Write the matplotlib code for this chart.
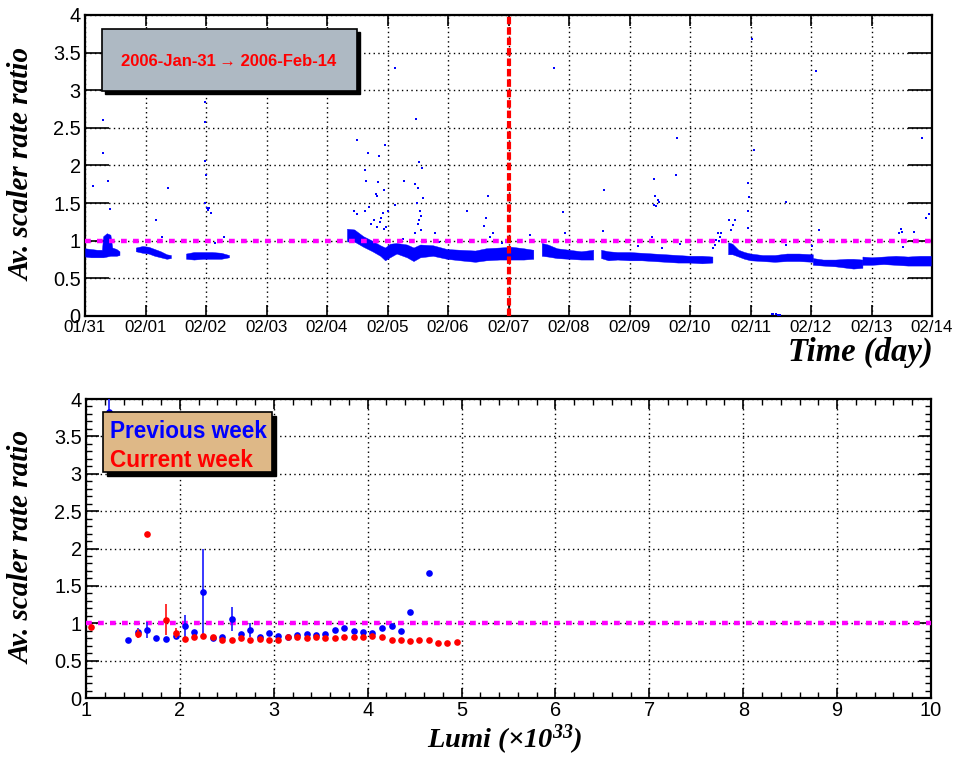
import matplotlib
matplotlib.use("Agg")
import matplotlib.pyplot as plt
from matplotlib.patches import Rectangle
import numpy as np

# ---------------- data: top panel (time in days since 01/31) ----------------
day_labels = ["01/31", "02/01", "02/02", "02/03", "02/04", "02/05", "02/06", "02/07",
              "02/08", "02/09", "02/10", "02/11", "02/12", "02/13", "02/14"]

# dense bands of points: time, lower edge, upper edge
segA_t = [0.00, 0.10, 0.20, 0.28, 0.30, 0.36, 0.42, 0.45, 0.52, 0.57]
segA_lo = [0.79, 0.78, 0.78, 0.78, 0.78, 0.79, 0.80, 0.80, 0.80, 0.81]
segA_hi = [0.90, 0.89, 0.88, 0.88, 1.06, 1.10, 1.08, 0.91, 0.89, 0.86]

segB_t = [0.84, 0.95, 1.05, 1.15, 1.25, 1.35, 1.42]
segB_lo = [0.86, 0.84, 0.83, 0.80, 0.78, 0.76, 0.77]
segB_hi = [0.91, 0.93, 0.92, 0.89, 0.86, 0.82, 0.81]

segC_t = [1.67, 1.80, 1.95, 2.10, 2.25, 2.38]
segC_lo = [0.76, 0.75, 0.76, 0.76, 0.76, 0.78]
segC_hi = [0.83, 0.85, 0.85, 0.85, 0.84, 0.81]

segD_t = [4.33, 4.45, 4.60, 4.75, 4.88, 4.96, 5.04, 5.15, 5.32, 5.43, 5.54, 5.75, 5.98,
          6.20, 6.45, 6.63, 6.85, 7.05, 7.25, 7.41]
segD_lo = [0.99, 0.99, 0.92, 0.86, 0.80, 0.74, 0.78, 0.83, 0.78, 0.73, 0.78, 0.80, 0.76,
           0.74, 0.72, 0.74, 0.75, 0.75, 0.75, 0.76]
segD_hi = [1.16, 1.15, 1.06, 1.00, 0.94, 0.91, 0.96, 0.97, 0.95, 0.91, 0.95, 0.94, 0.89,
           0.88, 0.87, 0.90, 0.91, 0.92, 0.90, 0.88]

segE_t = [7.55, 7.65, 7.80, 8.00, 8.20, 8.40]
segE_lo = [0.80, 0.79, 0.77, 0.76, 0.75, 0.75]
segE_hi = [0.97, 0.95, 0.90, 0.88, 0.86, 0.88]

segF_t = [8.53, 8.65, 8.80, 9.00, 9.20, 9.40, 9.60, 9.80, 10.00, 10.20, 10.37]
segF_lo = [0.77, 0.74, 0.75, 0.74, 0.74, 0.73, 0.72, 0.71, 0.71, 0.70, 0.71]
segF_hi = [0.88, 0.86, 0.85, 0.85, 0.84, 0.83, 0.82, 0.81, 0.80, 0.80, 0.79]

segG_t = [10.63, 10.70, 10.80, 10.90, 11.00, 11.20, 11.40, 11.60, 11.80, 12.03]
segG_lo = [0.82, 0.82, 0.79, 0.76, 0.74, 0.73, 0.72, 0.73, 0.73, 0.72]
segG_hi = [0.98, 0.96, 0.88, 0.85, 0.83, 0.81, 0.81, 0.83, 0.83, 0.82]

segH_t = [12.03, 12.20, 12.40, 12.60, 12.70, 12.85]
segH_lo = [0.68, 0.67, 0.66, 0.64, 0.63, 0.64]
segH_hi = [0.77, 0.75, 0.75, 0.76, 0.76, 0.75]

segI_t = [12.85, 13.00, 13.20, 13.40, 13.60, 13.80, 13.98]
segI_lo = [0.68, 0.68, 0.69, 0.68, 0.67, 0.67, 0.67]
segI_hi = [0.79, 0.78, 0.79, 0.80, 0.79, 0.80, 0.80]

# isolated points
iso_t = [0.14, 0.29, 0.29, 0.38, 0.41, 1.17, 1.38, 1.27, 1.99, 1.99, 1.99, 2.00, 1.99, 2.01,
         2.03, 2.05, 2.09, 2.30, 2.15,
         4.50, 4.63, 4.64, 4.67, 4.86, 4.84, 4.81, 4.83, 4.96, 4.94, 5.12, 5.13, 5.27, 5.47,
         5.52, 5.57, 5.46, 5.51, 5.59, 5.48, 5.53, 5.52, 5.55, 5.79, 4.45, 4.50, 4.63, 4.77,
         4.82, 4.92, 4.95, 4.72, 4.88, 4.98, 5.50, 5.56, 5.45, 4.70, 4.90, 5.00,
         7.75, 6.66, 6.62, 6.59, 6.70, 6.75, 7.90, 7.93, 8.57, 8.58, 9.41, 9.42, 9.47, 9.40,
         9.43, 9.49, 9.79, 9.77, 11.03, 11.05, 10.96, 10.98, 10.96, 10.96, 10.65, 10.71,
         10.75, 10.68, 11.59, 12.08, 12.14, 13.84, 13.95, 13.90, 13.48, 13.50, 13.46, 13.52,
         13.70, 7.36, 9.38, 10.46, 10.43, 10.41, 10.38, 9.83, 9.54, 9.14, 12.02, 11.59,
         10.48, 10.50, 10.52, 6.32, 6.60, 6.90, 5.85, 5.25,
         11.35, 11.38, 11.42, 11.45, 11.48]
iso_v = [1.73, 2.61, 2.17, 1.80, 1.42, 1.27, 1.70, 1.05, 2.85, 2.58, 2.06, 1.87, 1.50, 1.43,
         1.41, 1.44, 1.37, 1.05, 0.97,
         2.34, 1.94, 1.80, 2.17, 2.12, 1.78, 1.62, 1.60, 2.27, 1.68, 3.30, 1.48, 1.79, 2.62,
         2.04, 1.97, 1.75, 1.70, 1.57, 1.50, 1.40, 1.28, 1.14, 1.10, 1.40, 1.35, 1.40, 1.28,
         1.18, 1.37, 1.15, 1.22, 1.25, 1.18, 1.22, 1.33, 1.10, 1.45, 1.30, 1.40,
         3.30, 1.59, 1.30, 1.20, 1.05, 1.10, 1.38, 1.10, 1.13, 1.67, 1.82, 1.59, 1.54, 1.47,
         1.46, 1.51, 2.36, 1.88, 3.68, 2.20, 1.77, 1.58, 1.39, 1.17, 1.27, 1.21,
         1.28, 1.14, 1.51, 3.25, 1.14, 2.36, 1.35, 1.30, 1.16, 1.12, 1.10, 0.92,
         1.11, 1.07, 1.05, 1.10, 1.01, 0.94, 0.90, 0.96, 0.90, 0.93, 0.93, 0.94,
         1.00, 1.05, 1.10, 1.39, 1.00, 0.97, 0.98, 1.02,
         0.03, 0.02, 0.02, 0.01, 0.01]

ref_day = 7.0  # red marker line at 02/07

# ---------------- data: bottom panel ----------------
prev_lumi = [1.25, 1.45, 1.55, 1.65, 1.75, 1.855, 1.954, 2.053, 2.15, 2.25, 2.35, 2.45, 2.55,
             2.65, 2.75, 2.85, 2.95, 3.05, 3.15, 3.25, 3.35, 3.45, 3.55, 3.65, 3.75, 3.85,
             3.95, 4.05, 4.15, 4.26, 4.35, 4.45, 4.65]
prev_ratio = [3.83, 0.77, 0.88, 0.91, 0.80, 0.79, 0.83, 0.96, 0.88, 1.42, 0.80, 0.81, 1.06,
              0.86, 0.91, 0.82, 0.87, 0.83, 0.82, 0.84, 0.85, 0.84, 0.86, 0.91, 0.93, 0.89,
              0.88, 0.87, 0.93, 0.96, 0.90, 1.15, 1.67]
prev_err_lo = [0.00, 0.0, 0.06, 0.11, 0.0, 0.0, 0.04, 0.15, 0.0, 0.57, 0.0, 0.0, 0.16,
               0.0, 0.10, 0.0, 0.0, 0.0, 0.0, 0.0, 0.0, 0.0, 0.0, 0.0, 0.0, 0.0,
               0.0, 0.0, 0.0, 0.0, 0.0, 0.0, 0.0]
prev_err_hi = [0.25, 0.0, 0.06, 0.11, 0.0, 0.0, 0.04, 0.15, 0.0, 0.57, 0.0, 0.0, 0.16,
               0.0, 0.10, 0.0, 0.0, 0.0, 0.0, 0.0, 0.0, 0.0, 0.0, 0.0, 0.0, 0.0,
               0.0, 0.0, 0.0, 0.0, 0.0, 0.0, 0.0]

curr_lumi = [1.053, 1.55, 1.652, 1.85, 1.954, 2.053, 2.15, 2.25, 2.35, 2.45, 2.55, 2.65,
             2.75, 2.85, 2.95, 3.05, 3.15, 3.25, 3.35, 3.45, 3.55, 3.65, 3.75, 3.85, 3.95,
             4.05, 4.15, 4.26, 4.35, 4.45, 4.55, 4.65, 4.75, 4.85, 4.95]
curr_ratio = [0.95, 0.86, 2.20, 1.05, 0.87, 0.79, 0.81, 0.83, 0.81, 0.78, 0.77, 0.80,
              0.77, 0.79, 0.77, 0.77, 0.81, 0.82, 0.80, 0.82, 0.80, 0.80, 0.81, 0.82, 0.82,
              0.83, 0.81, 0.77, 0.78, 0.76, 0.77, 0.77, 0.74, 0.74, 0.75]
curr_err = [0.0, 0.06, 0.0, 0.21, 0.07, 0.0, 0.0, 0.0, 0.0, 0.0, 0.0, 0.0,
            0.0, 0.0, 0.0, 0.0, 0.0, 0.0, 0.0, 0.0, 0.0, 0.0, 0.0, 0.0, 0.0,
            0.0, 0.0, 0.0, 0.0, 0.0, 0.0, 0.0, 0.0, 0.0, 0.0]

title_text = "2006-Jan-31\u2009\u2192 2006-Feb-14"
legend_labels = ["Previous week", "Current week"]

# ---------------- figure ----------------
W, H = 956, 757
fig = plt.figure(figsize=(W / 100, H / 100), dpi=100)
plt.rcParams['mathtext.fontset'] = 'custom'
plt.rcParams['mathtext.rm'] = 'Liberation Serif:bold:italic'
plt.rcParams['mathtext.it'] = 'Liberation Serif:bold:italic'
plt.rcParams['mathtext.bf'] = 'Liberation Serif:bold:italic'

sans = ['Liberation Sans', 'DejaVu Sans']
serif_kw = dict(family=['Liberation Serif', 'DejaVu Serif'], weight='bold', style='italic')


def px_rect(x0, y0, x1, y1):
    return [x0 / W, 1 - y1 / H, (x1 - x0) / W, (y1 - y0) / H]


ax1 = fig.add_axes(px_rect(85, 15, 932, 316))
ax2 = fig.add_axes(px_rect(86, 399, 931, 698))

dot_grid = dict(color='black', linestyle=(0, (1, 2.4)), linewidth=1.0)
magenta_style = dict(color='#ff00ff', linewidth=3.2, linestyle=(0, (1.3, 1.4)))

# ---- top panel ----
segments = [(segA_t, segA_lo, segA_hi), (segB_t, segB_lo, segB_hi), (segC_t, segC_lo, segC_hi),
            (segD_t, segD_lo, segD_hi), (segE_t, segE_lo, segE_hi), (segF_t, segF_lo, segF_hi),
            (segG_t, segG_lo, segG_hi), (segH_t, segH_lo, segH_hi), (segI_t, segI_lo, segI_hi)]
for t, lo, hi in segments:
    ax1.fill_between(t, lo, hi, color='#0000ff', linewidth=0.3, edgecolor='#0000ff', zorder=3)
ax1.plot(iso_t, iso_v, linestyle='none', marker='s', markersize=1.9, color='#0000ff',
         markeredgewidth=0, zorder=3)
ax1.axhline(1.0, zorder=4, **magenta_style)
ax1.axvline(ref_day, color='#ff0000', linewidth=3.0, linestyle=(0, (1.8, 0.7)), zorder=5)

ax1.set_xlim(0, 14)
ax1.set_ylim(0, 4)
ax1.set_xticks(np.arange(len(day_labels)))
ax1.set_xticklabels(day_labels, fontsize=12.2, family=sans)
ax1.set_yticks(np.arange(0, 4.01, 0.5))
ax1.set_yticklabels(["0", "0.5", "1", "1.5", "2", "2.5", "3", "3.5", "4"], fontsize=14.4,
                    family=sans)
ax1.tick_params(axis='x', direction='in', length=8, width=1.2, top=True, bottom=True, pad=3)
ax1.tick_params(axis='y', direction='in', length=17, width=1.2, left=True, right=True, pad=3)
ax1.grid(True, **dot_grid)
ax1.set_axisbelow(True)
for sp in ax1.spines.values():
    sp.set_linewidth(1.6)

# top info box
sh = Rectangle((105 / W, 1 - 94 / H), 255 / W, 62 / H, transform=fig.transFigure,
               facecolor='black', edgecolor='black', zorder=10)
bx = Rectangle((102 / W, 1 - 91 / H), 255 / W, 62 / H, transform=fig.transFigure,
               facecolor='#aeb9c3', edgecolor='black', linewidth=1.2, zorder=11)
fig.add_artist(sh)
fig.add_artist(bx)
fig.text(229 / W, 1 - 61 / H, title_text, color='#ff0000', fontsize=12, weight='bold',
         family=['Liberation Sans', 'DejaVu Sans'], ha='center', va='center', zorder=12)

fig.text(22 / W, 1 - 164 / H, "Av. scaler rate ratio", rotation=90, ha='center', va='center',
         fontsize=21, **serif_kw)
fig.text(933 / W, 1 - 352 / H, "Time (day)", ha='right', va='center', fontsize=23.5, **serif_kw)

# ---- bottom panel ----
ax2.errorbar(prev_lumi, prev_ratio, yerr=[prev_err_lo, prev_err_hi], fmt='o', color='#0000ff',
             ecolor='#2a2aff', elinewidth=1.3, capsize=0, markersize=4.8, markeredgewidth=0,
             zorder=4, clip_on=True)
ax2.errorbar(curr_lumi, curr_ratio, yerr=curr_err, fmt='o', color='#ff0000',
             ecolor='#ff2020', elinewidth=1.3, capsize=0, markersize=4.8, markeredgewidth=0,
             zorder=5)
ax2.axhline(1.0, zorder=3, **magenta_style)
ax2.set_xlim(1, 10)
ax2.set_ylim(0, 4)
ax2.set_xticks(np.arange(1, 11))
ax2.set_xticklabels([str(i) for i in range(1, 11)], fontsize=14.4, family=sans)
ax2.set_xticks(np.arange(1, 10.01, 0.2), minor=True)
ax2.set_yticks(np.arange(0, 4.01, 0.5))
ax2.set_yticklabels(["0", "0.5", "1", "1.5", "2", "2.5", "3", "3.5", "4"], fontsize=14.4,
                    family=sans)
ax2.set_yticks(np.arange(0, 4.01, 0.1), minor=True)
ax2.tick_params(axis='both', which='major', direction='in', top=True, right=True, width=1.2)
ax2.tick_params(axis='x', which='major', length=7, pad=2)
ax2.tick_params(axis='y', which='major', length=9, pad=3)
ax2.tick_params(axis='both', which='minor', direction='in', top=True, right=True, length=4.5,
                width=1.0)
ax2.grid(True, which='major', **dot_grid)
ax2.set_axisbelow(True)
for sp in ax2.spines.values():
    sp.set_linewidth(1.6)

sh2 = Rectangle((107 / W, 1 - 476 / H), 169 / W, 60 / H, transform=fig.transFigure,
                facecolor='black', edgecolor='black', zorder=10)
bx2 = Rectangle((103 / W, 1 - 472 / H), 169 / W, 60 / H, transform=fig.transFigure,
                facecolor='#deb887', edgecolor='black', linewidth=1.2, zorder=11)
fig.add_artist(sh2)
fig.add_artist(bx2)
fig.text(110 / W, 1 - 432 / H, legend_labels[0], color='#0000ff', fontsize=16.3, weight='bold',
         family=sans, ha='left', va='center', zorder=12)
fig.text(110 / W, 1 - 460 / H, legend_labels[1], color='#ff0000', fontsize=16.3, weight='bold',
         family=sans, ha='left', va='center', zorder=12)

fig.text(22 / W, 1 - 547 / H, "Av. scaler rate ratio", rotation=90, ha='center', va='center',
         fontsize=21, **serif_kw)
fig.text(505 / W, 1 - 748 / H, r"$Lumi\ (\times 10^{33})$", ha='center', va='baseline',
         fontsize=20.5)

fig.savefig("out.png", dpi=100, facecolor='white')
